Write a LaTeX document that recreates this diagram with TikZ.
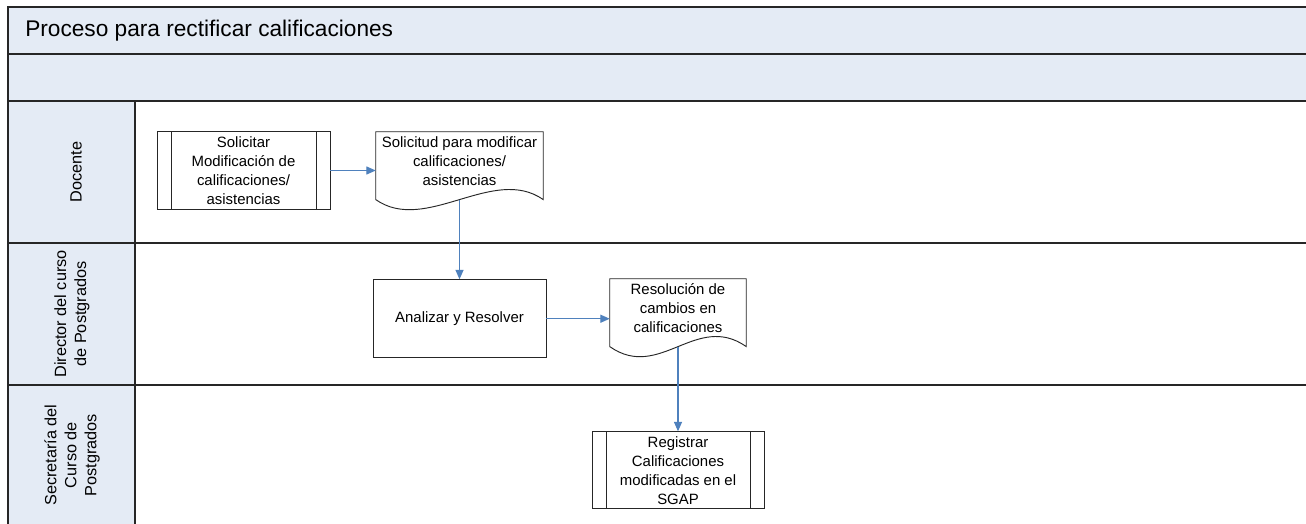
\documentclass[tikz,border=0pt]{standalone}
\usepackage{fontspec}
\setmainfont{Liberation Sans}
\usepackage{xcolor}
\usepackage{tikz}
\usetikzlibrary{arrows.meta, positioning}
\definecolor{flowblue}{RGB}{79, 129, 189}
\definecolor{bandblue}{RGB}{228, 235, 245}

\begin{document}
\begin{tikzpicture}[
      x=0.75pt, y=-0.75pt,
      font=\fontsize{11.2}{14.25}\selectfont,
      band/.style={draw=black!85, line width=0.9pt, fill=bandblue},
      lane/.style={draw=black!85, line width=0.9pt},
      lanelabel/.style={rotate=90, align=center,
                        font=\fontsize{12.2}{15}\selectfont},
      proc/.style={draw=black!85, line width=0.7pt, align=center,
                   minimum width=129.75pt, minimum height=58.5pt,
                   inner sep=2pt},
      subproc/.style={proc, minimum height=59pt, path picture={
          \draw[black!85, line width=0.7pt]
            ([xshift=10.5pt]path picture bounding box.north west)
              -- ([xshift=10.5pt]path picture bounding box.south west)
            ([xshift=-10.5pt]path picture bounding box.north east)
              -- ([xshift=-10.5pt]path picture bounding box.south east);}},
      doc/.style={align=center, minimum height=43.5pt, inner sep=2pt},
      docline/.style={draw=black!85, line width=0.7pt},
      flow/.style={draw=flowblue, line width=0.8pt,
                   -{Triangle[length=7pt, width=6pt]}}
    ]
    \useasboundingbox (0,0) rectangle (1306,524);
    \fill[white] (0,0) rectangle (1306,524);
    \clip (0,0) rectangle (1306,524);

    \draw[band] (8,7) rectangle (1330,54);
    \draw[band] (8,54) rectangle (1330,101);
    \foreach \t/\b in {101/243, 243/385, 385/540} {
      \draw[lane] (8,\t) rectangle (1330,\b);
      \draw[band] (8,\t) rectangle (135,\b);
    }

    \node[anchor=west, inner sep=0pt, font=\fontsize{17}{20}\selectfont]
      (title) at (25,30.5) {Proceso para rectificar calificaciones};

    \node[lanelabel] (docente) at (76,172) {Docente};
    \node[lanelabel] (director) at (72,314) {Director del curso\\de Postgrados};
    \node[lanelabel] (secretaria) at (72,455)
      {Secretaría del\\Curso de\\Postgrados};

    \node[subproc] (soli) at (243.5,170.5)
      {Solicitar\\Modificación de\\calificaciones/\\asistencias};
    \node[doc, minimum width=125.25pt] (sol) at (459.5,161)
      {Solicitud para modificar\\calificaciones/\\asistencias};
    \node[proc, below=66.75pt of sol] (ana) {Analizar y Resolver};
    \node[doc, minimum width=102pt] (res) at (678,308)
      {Resolución de\\cambios en\\calificaciones};
    \node[subproc, minimum width=129pt, minimum height=57.75pt,
          below=70.5pt of res] (reg)
      {Registrar\\Calificaciones\\modificadas en el\\SGAP};

    \foreach \d in {sol, res} {
      \draw[docline] ([yshift=-7pt]\d.south west) -- (\d.north west)
        -- (\d.north east) -- ([yshift=-7pt]\d.south east)
        .. controls +(-50,-35) and +(50,35) .. ([yshift=-7pt]\d.south west);
    }

    \draw[flow] (soli.east) -- (soli.east -| sol.west);
    \draw[flow] ([yshift=-7pt]sol.south) -- (ana.north);
    \draw[flow] (ana.east) -- (ana.east -| res.west);
    \draw[flow] ([yshift=-7pt]res.south) -- (reg.north);
  \end{tikzpicture}
\end{document}
